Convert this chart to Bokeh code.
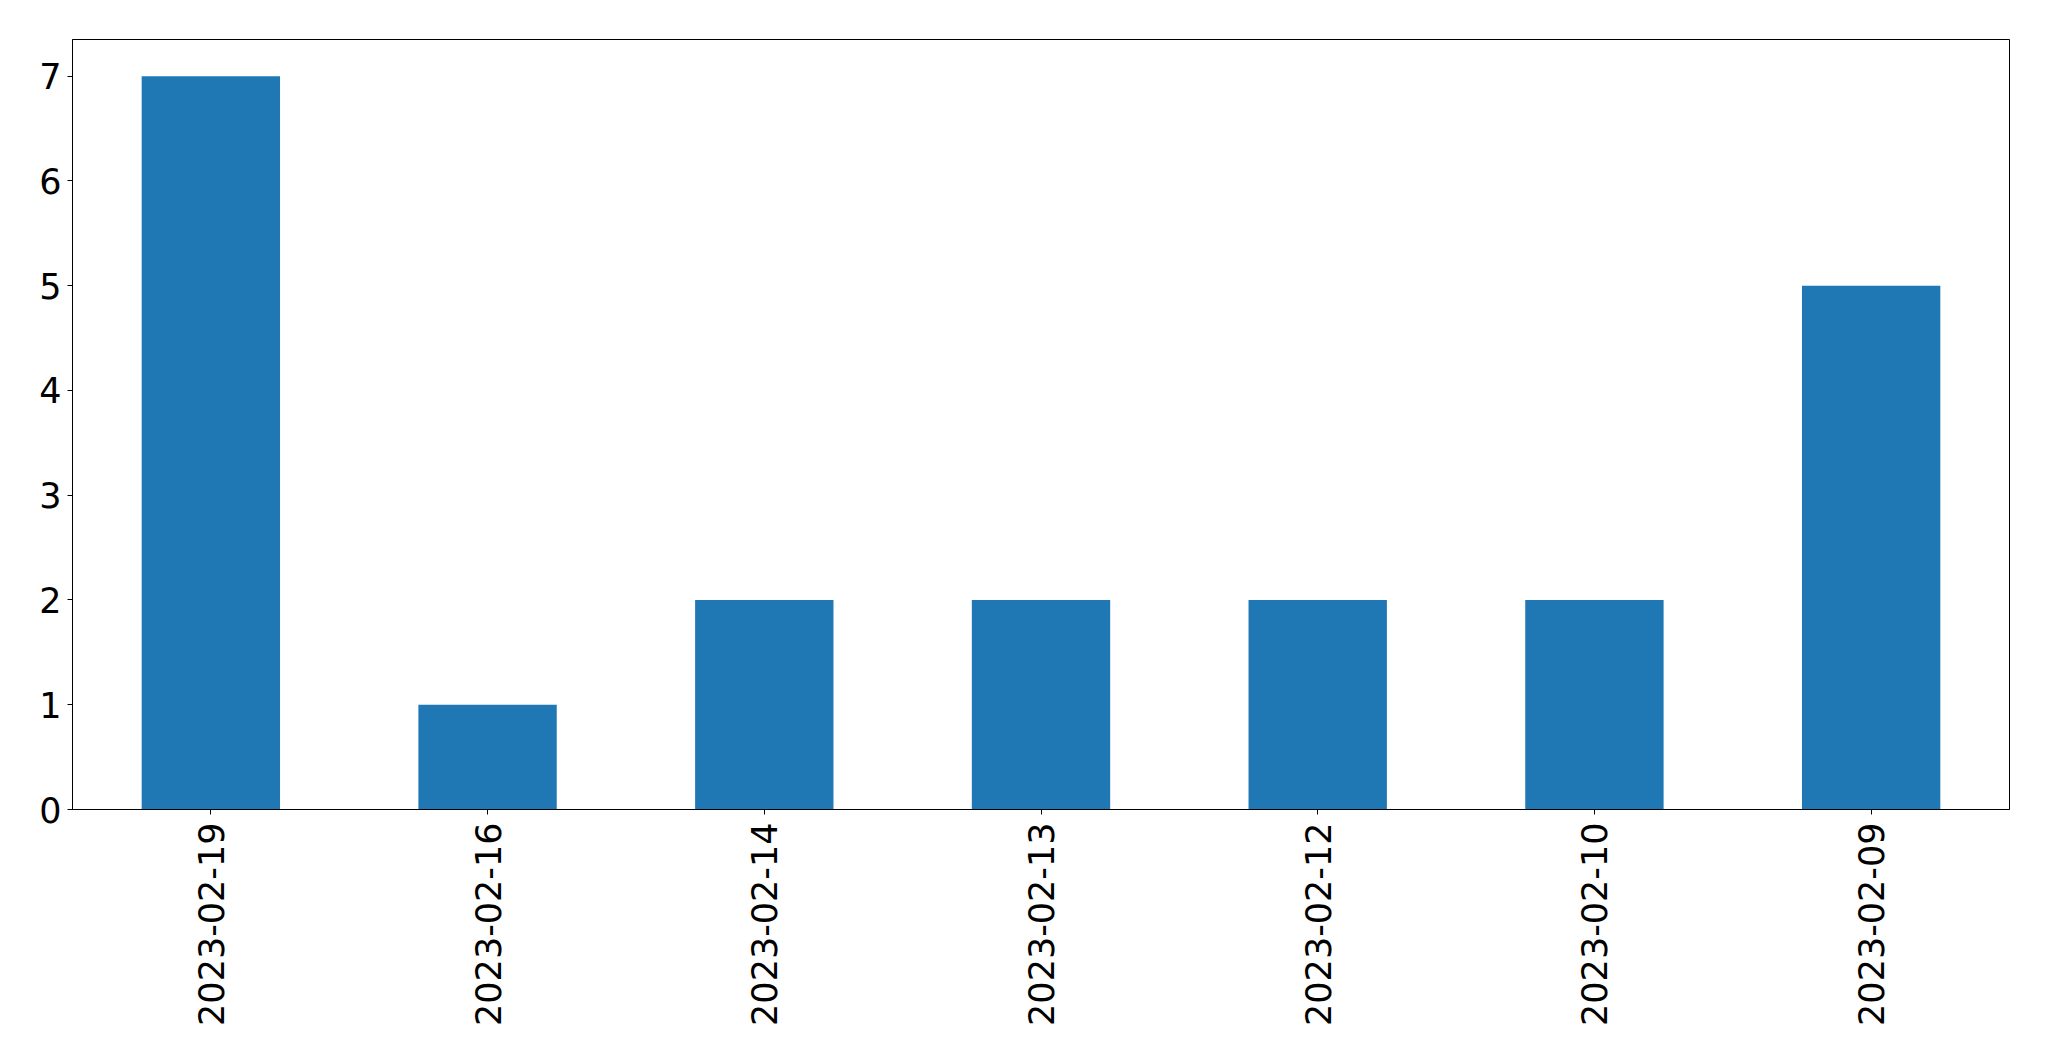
import math
from bokeh.plotting import figure
from bokeh.models import ColumnDataSource, FactorRange, Range1d, FixedTicker
from bokeh.embed import file_html
from bokeh.resources import INLINE

dates = ["2023-02-19", "2023-02-16", "2023-02-14", "2023-02-13", "2023-02-12", "2023-02-10", "2023-02-09"]
counts = [7, 1, 2, 2, 2, 2, 5]
y_ticks = [0, 1, 2, 3, 4, 5, 6, 7]

source = ColumnDataSource(data=dict(date=dates, count=counts))

p = figure(
    x_range=FactorRange(factors=dates, range_padding=0),
    y_range=Range1d(0, 7.35),
    width=2033, height=1045,
    output_backend="svg", toolbar_location=None,
    min_border_left=72, min_border_right=24, min_border_top=39, min_border_bottom=236,
)

p.vbar(x="date", top="count", width=0.5, source=source, color="#1f77b4", line_color=None)

p.xgrid.visible = False
p.ygrid.visible = False
p.outline_line_color = "black"
p.outline_line_width = 1
p.outline_line_alpha = 1

for ax in (p.xaxis, p.yaxis):
    ax.axis_line_color = "black"
    ax.major_tick_line_color = "black"
    ax.minor_tick_line_color = None
    ax.major_tick_out = 5
    ax.major_tick_in = 0
    ax.major_label_text_font = "DejaVu Sans"
    ax.major_label_text_font_size = "35px"
    ax.major_label_text_color = "black"

p.yaxis.ticker = FixedTicker(ticks=y_ticks)
p.yaxis.major_label_standoff = 6
p.xaxis.major_label_orientation = math.pi / 2
p.xaxis.major_label_standoff = 8

open("out.html", "w").write(file_html(p, INLINE))
